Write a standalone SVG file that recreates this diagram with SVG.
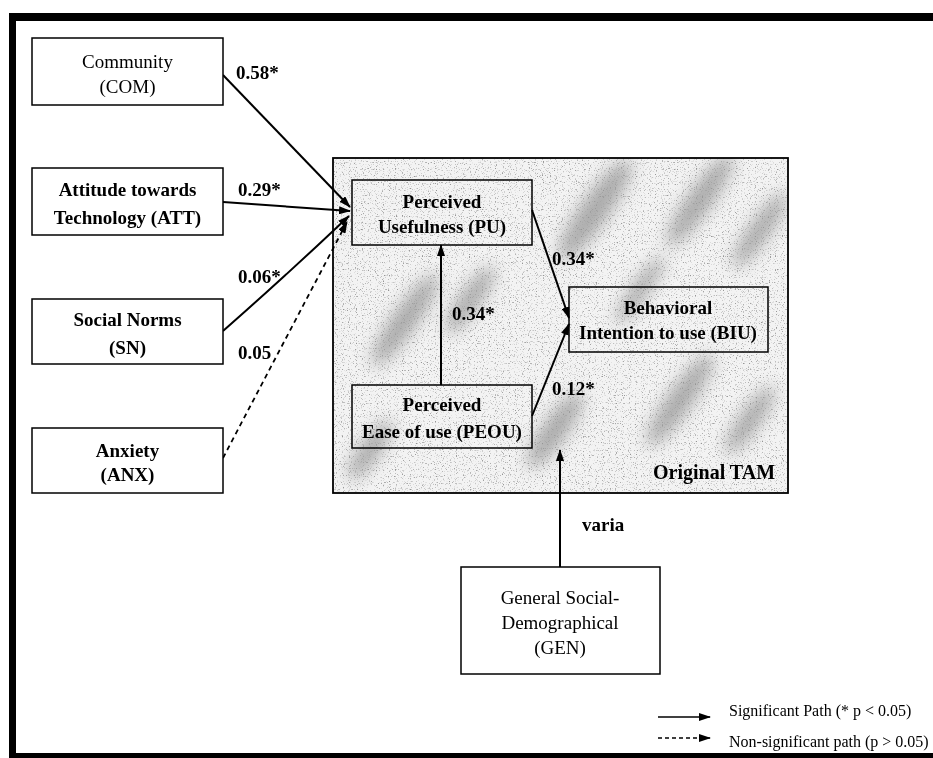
<svg xmlns="http://www.w3.org/2000/svg" width="933" height="758" viewBox="0 0 933 758">
<style>
  text { font-family: "Liberation Serif", "Times New Roman", serif; fill: #000; }
  .nt { font-size: 19px; font-weight: bold; text-anchor: middle; }
  .nr { font-size: 19px; font-weight: normal; text-anchor: middle; }
  .lb { font-size: 19px; font-weight: bold; }
  .lg { font-size: 16px; }
  .box { fill: #fff; stroke: #000; stroke-width: 1.5; }
  .tbox { fill: none; stroke: #000; stroke-width: 1.5; }
  .edge { fill: none; stroke: #000; stroke-width: 2; marker-end: url(#ah); }
  .dash { stroke-dasharray: 5 4; stroke-width: 1.8; }
</style>
<defs>
  <marker id="ah" viewBox="0 0 12 8" refX="11" refY="4" markerWidth="12" markerHeight="8" markerUnits="userSpaceOnUse" orient="auto">
    <path d="M0,0 L12,4 L0,8 z" fill="#000"/>
  </marker>
  <filter id="speck" x="0" y="0" width="1" height="1">
    <feTurbulence type="fractalNoise" baseFrequency="0.85" numOctaves="1" seed="7"/>
    <feColorMatrix type="matrix" values="0 0 0 0 0.3  0 0 0 0 0.3  0 0 0 0 0.3  5 0 0 0 -2.85"/>
  </filter>
  <filter id="blur" x="-50%" y="-50%" width="200%" height="200%">
    <feGaussianBlur stdDeviation="8"/>
  </filter>
  <clipPath id="tamclip"><rect x="333" y="158" width="455" height="335"/></clipPath>
</defs>

<!-- frame -->
<g id="frame">
  <rect x="9" y="13" width="924" height="8" fill="#000"/>
  <rect x="9" y="13" width="7" height="745" fill="#000"/>
  <rect x="9" y="753" width="924" height="5" fill="#000"/>
</g>

<!-- Original TAM region -->
<g id="tam">
  <rect x="333" y="158" width="455" height="335" fill="#f3f3f3"/>
  <g clip-path="url(#tamclip)">
    <g filter="url(#blur)" fill="#8c8c8c" opacity="0.7">
      <ellipse cx="405" cy="320" rx="12" ry="55" transform="rotate(35 405 320)"/>
      <ellipse cx="595" cy="210" rx="14" ry="60" transform="rotate(35 595 210)"/>
      <ellipse cx="700" cy="200" rx="12" ry="55" transform="rotate(35 700 200)"/>
      <ellipse cx="760" cy="230" rx="10" ry="45" transform="rotate(35 760 230)"/>
      <ellipse cx="555" cy="430" rx="12" ry="45" transform="rotate(35 555 430)"/>
      <ellipse cx="680" cy="400" rx="12" ry="55" transform="rotate(35 680 400)"/>
      <ellipse cx="750" cy="420" rx="10" ry="40" transform="rotate(35 750 420)"/>
      <ellipse cx="470" cy="300" rx="10" ry="40" transform="rotate(35 470 300)"/>
      <ellipse cx="370" cy="450" rx="10" ry="35" transform="rotate(35 370 450)"/>
      <ellipse cx="640" cy="290" rx="8" ry="40" transform="rotate(35 640 290)"/>
    </g>
    <rect x="333" y="158" width="455" height="335" filter="url(#speck)"/>
  </g>
  <rect x="333" y="158" width="455" height="335" fill="none" stroke="#000" stroke-width="1.8"/>
  <text class="lb" x="653" y="479" style="font-size:20px">Original TAM</text>
</g>

<!-- connectors -->
<g id="connectors">
  <path class="edge" d="M223,75 L350,207"/>
  <path class="edge" d="M223,202 L350,211"/>
  <path class="edge" d="M223,331 Q290,272 349,216"/>
  <path class="edge dash" d="M223,458 L347,222"/>
  <path class="edge" d="M441,385 L441,245"/>
  <path class="edge" d="M532,210 L569,318"/>
  <path class="edge" d="M532,416 L569,324"/>
  <path class="edge" d="M560,567 L560,450"/>
</g>

<!-- edge labels -->
<g id="labels">
  <text class="lb" x="236" y="79">0.58*</text>
  <text class="lb" x="238" y="196">0.29*</text>
  <text class="lb" x="238" y="283">0.06*</text>
  <text class="lb" x="238" y="359">0.05</text>
  <text class="lb" x="452" y="320">0.34*</text>
  <text class="lb" x="552" y="265">0.34*</text>
  <text class="lb" x="552" y="395">0.12*</text>
  <text class="lb" x="582" y="531">varia</text>
</g>

<!-- nodes -->
<g id="COM">
  <rect class="box" x="32" y="38" width="191" height="67"/>
  <text class="nr" x="127.5" y="68">Community</text>
  <text class="nr" x="127.5" y="93">(COM)</text>
</g>
<g id="ATT">
  <rect class="box" x="32" y="168" width="191" height="67"/>
  <text class="nt" x="127.5" y="196">Attitude towards</text>
  <text class="nt" x="127.5" y="224">Technology (ATT)</text>
</g>
<g id="SN">
  <rect class="box" x="32" y="299" width="191" height="65"/>
  <text class="nt" x="127.5" y="326">Social Norms</text>
  <text class="nt" x="127.5" y="354">(SN)</text>
</g>
<g id="ANX">
  <rect class="box" x="32" y="428" width="191" height="65"/>
  <text class="nt" x="127.5" y="457">Anxiety</text>
  <text class="nt" x="127.5" y="481">(ANX)</text>
</g>
<g id="PU">
  <rect class="tbox" x="352" y="180" width="180" height="65"/>
  <text class="nt" x="442" y="208">Perceived</text>
  <text class="nt" x="442" y="233">Usefulness (PU)</text>
</g>
<g id="PEOU">
  <rect class="tbox" x="352" y="385" width="180" height="63"/>
  <text class="nt" x="442" y="411">Perceived</text>
  <text class="nt" x="442" y="438">Ease of use (PEOU)</text>
</g>
<g id="BIU">
  <rect class="tbox" x="569" y="287" width="199" height="65"/>
  <text class="nt" x="668" y="314">Behavioral</text>
  <text class="nt" x="668" y="339">Intention to use (BIU)</text>
</g>
<g id="GEN">
  <rect class="box" x="461" y="567" width="199" height="107"/>
  <text class="nr" x="560" y="604">General Social-</text>
  <text class="nr" x="560" y="629">Demographical</text>
  <text class="nr" x="560" y="654">(GEN)</text>
</g>

<!-- legend -->
<g id="legend">
  <path class="edge" d="M658,717 L710,717" style="stroke-width:1.5"/>
  <text class="lg" x="729" y="716">Significant Path (* p &lt; 0.05)</text>
  <path class="edge dash" d="M658,738 L710,738" style="stroke-width:1.5;stroke-dasharray:4 3"/>
  <text class="lg" x="729" y="747">Non-significant path (p &gt; 0.05)</text>
</g>
</svg>
